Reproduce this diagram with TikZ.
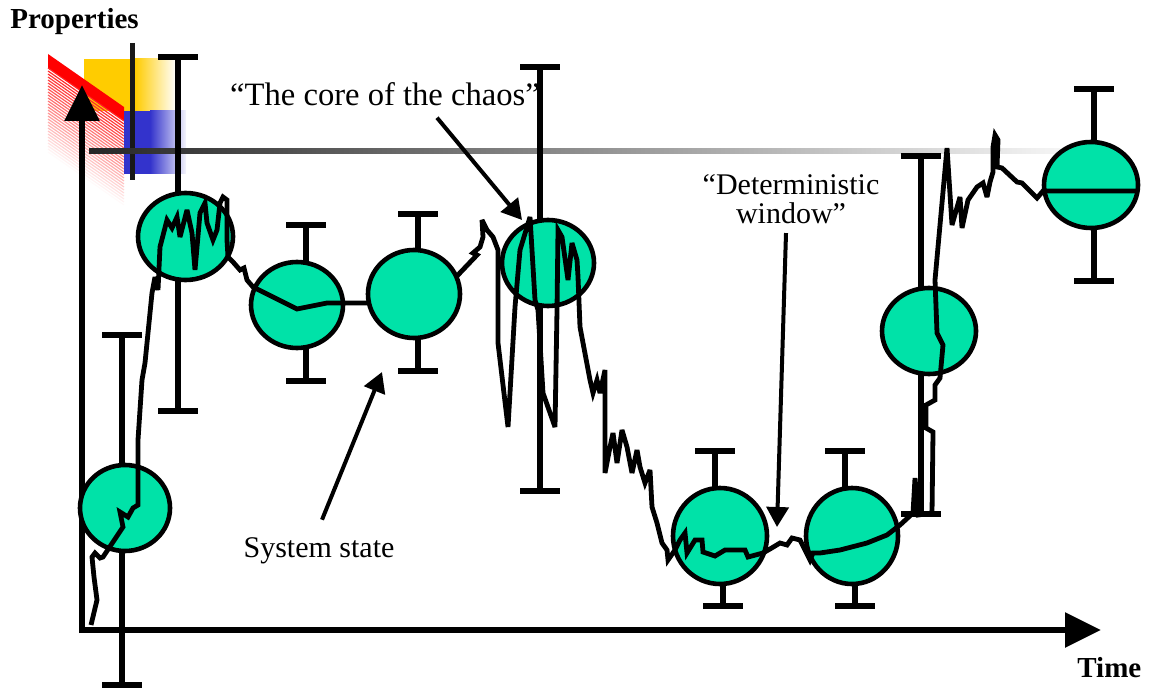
\documentclass[tikz,border=0pt]{standalone}
\usepackage{fontspec}
\setmainfont{Liberation Serif}
\usetikzlibrary{arrows.meta}
\definecolor{blobgreen}{RGB}{0,226,168}
\definecolor{logogold}{RGB}{255,204,0}
\definecolor{logoblue}{RGB}{51,51,204}

\begin{document}
\begin{tikzpicture}[
    x=0.5pt, y=-0.5pt,
    myaxis/.style={-{Triangle[length=18pt,width=17pt]}, line width=3pt},
    mybar/.style={line width=2.8pt},
    myblob/.style={draw, fill=blobgreen, line width=2.3pt},
    mycurve/.style={line width=2.4pt, line join=miter, miter limit=4},
    myarrow/.style={-{Triangle[length=10pt,width=11pt]}, line width=2pt},
    mylabel/.style={font=\fontsize{15pt}{14.5pt}\selectfont, inner sep=0pt},
    mytitle/.style={font=\fontsize{14.5pt}{17pt}\selectfont\bfseries, inner sep=0pt}
]
    \useasboundingbox (0,0) rectangle (1154,689);

    % Logo in the corner
    \fill[logogold] (84,59) rectangle (135,111);
    \shade[left color=logogold, right color=white] (135,59) rectangle (176,111);
    \fill[red] (48,54) -- (124,107) -- (124,121) -- (48,68) -- cycle;
    \foreach \k in {14,17,...,99} {
        \pgfmathsetmacro\redval{100-\k}
        \draw[red!\redval, line width=0.6pt] (48,54+\k) -- (124,107+\k);
    }
    \fill[logoblue] (124,111) rectangle (150,174);
    \shade[left color=logoblue, right color=logoblue!5] (150,111) rectangle (186,174);
    \draw[black!90, line width=2.5pt] (132,43) -- (132,180);
    \shade[left color=black!85, right color=black!4] (89,148.5) rectangle (1060,153.5);

    % Axes
    \draw[myaxis] (82,633) -- (82,85);
    \draw[myaxis] (79,630) -- (1101,630);
    \node[mytitle, anchor=base west] (props) at (10,29) {Properties};
    \node[mytitle, anchor=base west] (time) at (1077,677) {Time};

    % Error bars
    \foreach \xa/\ya/\xb/\yb/\ym in {122/335/122/685/508, 178/57/178/411/237,
        306/225/306/381/305, 418/214/418/371/294, 540/67/540/491/263,
        715/451/723/606/536, 845/451/855/606/536, 921/156/921/514/331,
        1094/89/1094/281/185}
        \draw[mybar] (\xa-20,\ya) -- (\xa+20,\ya) (\xa,\ya) -- (\xa,\ym) -- (\xb,\ym)
            -- (\xb,\yb) (\xb-20,\yb) -- (\xb+20,\yb);

    % States
    \foreach \cx/\cy/\rx/\ry in {125/508/45/43, 185.5/236.5/47.5/43.5, 297/305/46/43,
        414/294/46/44, 548/263/46/43, 720/536/47/48, 852/536/46/48, 929/331/47/43,
        1091/185/47/43}
        \draw[myblob] (\cx,\cy) ellipse [x radius=\rx, y radius=\ry];

    % System state path
    \draw[mycurve] (91,625) -- (97,600) -- (94,577) -- (92,557) -- (95,553) -- (100,558)
        -- (103,557) -- (123,527) -- (120,512) -- (128,517) -- (133,508) -- (138,505)
        -- (138,440) -- (142,380) -- (145,363) -- (152,293) -- (155,277) -- (158,290)
        -- (160,247) -- (167,220) -- (172,228) -- (177,217) -- (180,237) -- (187,210)
        -- (192,233) -- (195,270) -- (200,213) -- (205,203) -- (207,223) -- (213,240)
        -- (217,230) -- (220,203) -- (223,197) -- (227,200) -- (227,240) -- (228,257)
        -- (233,262) -- (240,270) -- (244,268) -- (247,280) -- (253,287) -- (297,309)
        -- (327,303) -- (368,303);
    \draw[mycurve] (457,276) -- (477,255) -- (473,253) -- (480,247) -- (483,237)
        -- (482,220) -- (487,230) -- (493,237) -- (498,250) -- (498,343) -- (508,427)
        -- (515,307) -- (520,250) -- (527,227) -- (530,217) -- (535,300) -- (538,310)
        -- (543,393) -- (555,427) -- (557,310) -- (558,230) -- (562,237) -- (568,280)
        -- (572,243) -- (577,260) -- (578,277) -- (580,327) -- (590,380) -- (593,393)
        -- (597,380) -- (600,393) -- (605,370) -- (605,473) -- (610,447) -- (613,433)
        -- (617,463) -- (622,430) -- (627,447) -- (632,473) -- (637,450) -- (640,467)
        -- (645,483) -- (650,470) -- (652,507) -- (657,523) -- (662,543) -- (667,550)
        -- (668,560) -- (675,550) -- (680,540) -- (685,533) -- (687,553) -- (695,540)
        -- (702,540) -- (703,552) -- (715,556) -- (725,550) -- (745,550) -- (748,557)
        -- (763,553) -- (770,549) -- (780,543) -- (787,545) -- (792,538) -- (800,540)
        -- (805,550) -- (810,560) -- (813,553) -- (820,553) -- (840,550) -- (867,543)
        -- (887,535) -- (900,525) -- (913,513) -- (915,478) -- (918,515) -- (932,513)
        -- (933,432) -- (926,428) -- (926,405) -- (935,400) -- (935,385) -- (940,378)
        -- (943,345) -- (937,333) -- (935,280) -- (947,148) -- (952,225) -- (960,197)
        -- (962,228) -- (968,200) -- (977,187) -- (983,183) -- (987,197) -- (990,182)
        -- (993,172) -- (993,147) -- (995,135) -- (998,140) -- (997,167) -- (1002,168)
        -- (1017,182) -- (1022,183) -- (1037,198) -- (1043,191) -- (1138,191);

    % Labels
    \node[mylabel, font=\fontsize{16.3pt}{16pt}\selectfont, anchor=base] (chaos)
        at (385,106) {“The core of the chaos”};
    \coordinate (chaostip) at (522,220);
    \draw[myarrow] ([shift={(52,11)}]chaos.south) -- (chaostip);

    \node[mylabel, align=center] (window) at (791,199) {“Deterministic\\window”};
    \coordinate (windowtip) at (777,527);
    \draw[myarrow] ([shift={(-5,9)}]window.south) -- (windowtip);

    \node[mylabel, anchor=base] (state) at (319,557) {System state};
    \coordinate (statetip) at (382,372);
    \draw[myarrow] ([shift={(3,-17)}]state.north) -- (statetip);
\end{tikzpicture}
\end{document}
